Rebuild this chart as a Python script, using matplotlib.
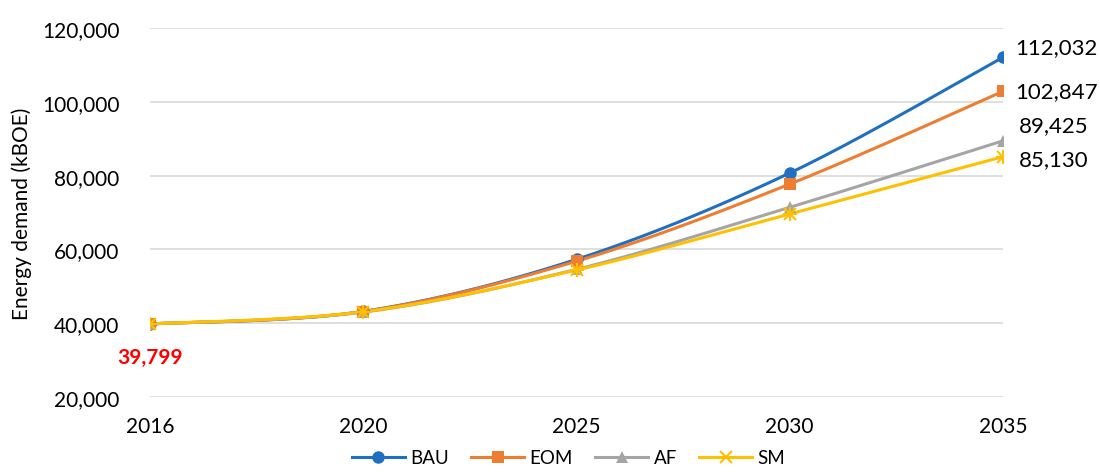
import numpy as np
import matplotlib.pyplot as plt
from matplotlib.lines import Line2D

plt.rcParams['font.family'] = ['Lato', 'DejaVu Sans']

years = ['2016', '2020', '2025', '2030', '2035']
bau = [39799, 43200, 57300, 80700, 112032]
eom = [39799, 43150, 56800, 77700, 102847]
af = [39799, 43000, 54600, 71400, 89425]
sm = [39799, 43100, 54400, 69600, 85130]

series = [('BAU', bau, '#1F70C1', 'o', 9),
          ('EOM', eom, '#ED7D31', 's', 8),
          ('AF', af, '#A5A5A5', '^', 9),
          ('SM', sm, '#FFC000', 'x', 8)]


def smooth(y, n=40):
    # bezier smoothing between points, control points from neighbours
    x = np.arange(len(y), dtype=float)
    y = np.asarray(y, dtype=float)
    xs, ys = [], []
    for i in range(len(y) - 1):
        i0 = max(i - 1, 0)
        i3 = min(i + 2, len(y) - 1)
        p0 = np.array([x[i], y[i]])
        p3 = np.array([x[i + 1], y[i + 1]])
        p1 = p0 + (p3 - np.array([x[i0], y[i0]])) / 6
        p2 = p3 - (np.array([x[i3], y[i3]]) - p0) / 6
        t = np.linspace(0, 1, n)[:, None]
        pts = ((1 - t) ** 3) * p0 + 3 * ((1 - t) ** 2) * t * p1 + 3 * (1 - t) * t ** 2 * p2 + t ** 3 * p3
        xs.extend(pts[:, 0])
        ys.extend(pts[:, 1])
    return np.array(xs), np.array(ys)


fig = plt.figure(figsize=(11, 4.77), dpi=100)
ax = fig.add_axes([150 / 1100, 79 / 477, 853 / 1100, 369 / 477])

xpos = np.arange(len(years))
handles = []
for name, vals, col, mk, ms in series:
    sx, sy = smooth(vals)
    ax.plot(sx, sy, color=col, lw=2.2, zorder=3, solid_capstyle='round')
    mew = 1.5 if mk == 'x' else 0
    ax.plot(xpos, vals, ls='none', marker=mk, ms=ms, color=col, mew=mew, zorder=4)
    if mk == 'x':
        ax.plot(xpos, vals, ls='none', marker='+', ms=ms + 2, color=col, mew=1.5, zorder=4)
    handles.append(Line2D([], [], color=col, lw=2.2, marker=mk, ms=ms, mew=mew, label=name))

# end-of-series labels
ax.text(xpos[-1] + 0.055, bau[-1], f'{bau[-1]:,}', fontsize=16, va='bottom', ha='left')
ax.text(xpos[-1] + 0.055, eom[-1], f'{eom[-1]:,}', fontsize=16, va='center', ha='left')
ax.text(xpos[-1] + 0.075, af[-1] + 1500, f'{af[-1]:,}', fontsize=16, va='bottom', ha='left')
ax.text(xpos[-1] + 0.075, sm[-1] - 600, f'{sm[-1]:,}', fontsize=16, va='center', ha='left')
ax.text(xpos[0], bau[0] - 9000, f'{bau[0]:,}', fontsize=15, color='#FF0000',
        fontweight='bold', ha='center', va='center')

ax.set_xlim(0, len(years) - 1)
ax.set_ylim(20000, 120000)
ax.set_yticks(np.arange(20000, 120001, 20000))
ax.yaxis.set_major_formatter(plt.FuncFormatter(lambda v, p: f'{int(v):,}'))
ax.set_xticks(xpos)
ax.set_xticklabels(years)
ax.grid(axis='y', color='#D9D9D9', lw=1.2)
ax.set_axisbelow(True)
for s in ax.spines.values():
    s.set_visible(False)
ax.tick_params(length=0, labelsize=15, colors='#000000')
ax.tick_params(axis='x', pad=14)
ax.tick_params(axis='y', pad=22)
ax.set_ylabel('Energy demand (kBOE)', fontsize=15, labelpad=7)

fig.legend(handles=handles, loc='lower center', ncol=4, frameon=False,
           fontsize=13.5, bbox_to_anchor=(0.517, -0.015), handlelength=2.8,
           columnspacing=1.2, handletextpad=0.3)

fig.savefig('out.png', dpi=100)
